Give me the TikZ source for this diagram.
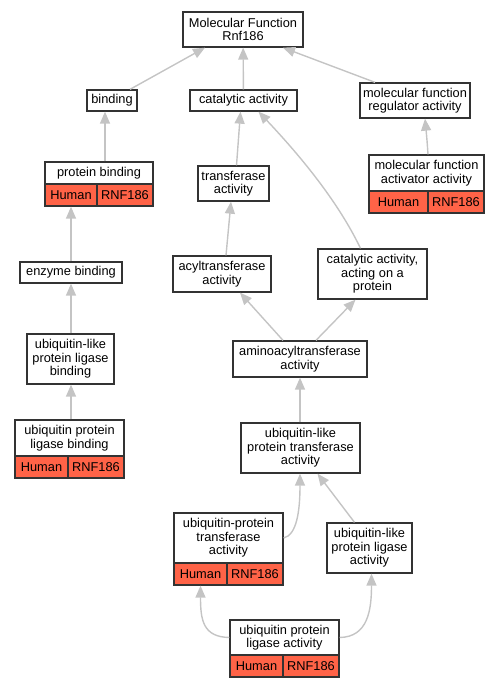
\documentclass[tikz,border=0pt]{standalone}
\usepackage{fontspec}
\setmainfont{Liberation Sans}
\usetikzlibrary{arrows.meta}
\definecolor{edgegray}{HTML}{C4C4C4}
\definecolor{boxline}{HTML}{333333}
\definecolor{tomatored}{HTML}{FF6347}
\begin{document}
\begin{tikzpicture}[x=1pt,y=-1pt,
  box/.style={draw=boxline, line width=1.3pt, fill=white, inner sep=0pt, align=center,
    font=\fontsize{12.8}{13.5}\selectfont},
  cell/.style={box, fill=tomatored, minimum height=22pt},
  edge/.style={draw=edgegray, line width=1.4pt, -{Triangle[length=12pt,width=10pt]}}]
\useasboundingbox (0,0) rectangle (500,688);

% plain nodes
\node[box, minimum width=120pt, minimum height=35pt] (mf) at (243,29.5) {Molecular Function\\Rnf186};
\node[box, minimum width=50pt, minimum height=21pt] (bind) at (112,100.5) {binding};
\node[box, minimum width=107pt, minimum height=21pt] (cat) at (243.5,100.5) {catalytic activity};
\node[box, minimum width=110pt, minimum height=35pt] (reg) at (415,100.5) {molecular function\\regulator activity};
\node[box, minimum width=71pt, minimum height=35pt] (trans) at (233.5,183.5) {transferase\\activity};
\node[box, minimum width=102pt, minimum height=21pt] (enz) at (71,272.5) {enzyme binding};
\node[box, minimum width=98pt, minimum height=36pt] (acyl) at (222,274) {acyltransferase\\activity};
\node[box, minimum width=109pt, minimum height=50pt] (cap) at (372.5,274) {catalytic activity,\\acting on a\\protein};
\node[box, minimum width=87pt, minimum height=50pt] (ulb) at (70.5,359) {ubiquitin-like\\protein ligase\\binding};
\node[box, minimum width=134pt, minimum height=36pt] (amino) at (300,359) {aminoacyltransferase\\activity};
\node[box, minimum width=119pt, minimum height=50pt] (ult) at (300.5,448) {ubiquitin-like\\protein transferase\\activity};
\node[box, minimum width=85pt, minimum height=50pt] (ula) at (369.5,548) {ubiquitin-like\\protein ligase\\activity};

% annotated nodes
\node[box, minimum width=108pt, minimum height=22pt] (pb) at (99,173) {protein binding};
\node[cell, minimum width=52pt] (pbh) at (71,195) {Human};
\node[cell, minimum width=56pt] (pbr) at (125,195) {RNF186};

\node[box, minimum width=115pt, minimum height=36pt] (act) at (426.5,173) {molecular function\\activator activity};
\node[cell, minimum width=59pt] (acth) at (398.5,202) {Human};
\node[cell, minimum width=56pt] (actr) at (456,202) {RNF186};

\node[box, minimum width=109pt, minimum height=36pt] (uplb) at (69.5,438) {ubiquitin protein\\ligase binding};
\node[cell, minimum width=53pt] (uplbh) at (41.5,467) {Human};
\node[cell, minimum width=56pt] (uplbr) at (96,467) {RNF186};

\node[box, minimum width=109pt, minimum height=50pt] (upt) at (228.5,538) {ubiquitin-protein\\transferase\\activity};
\node[cell, minimum width=53pt] (upth) at (200.5,574) {Human};
\node[cell, minimum width=56pt] (uptr) at (255,574) {RNF186};

\node[box, minimum width=109pt, minimum height=35pt] (upla) at (284.5,637.5) {ubiquitin protein\\ligase activity};
\node[cell, minimum width=53pt] (uplah) at (256.5,666) {Human};
\node[cell, minimum width=56pt] (uplar) at (311,666) {RNF186};

% edges
\draw[edge] ([xshift=18pt]bind.north) -- ([xshift=-38pt]mf.south);
\draw[edge] (cat) -- (mf);
\draw[edge] ([xshift=-40pt]reg.north) -- ([xshift=40pt]mf.south);
\draw[edge] ([xshift=6pt]pb.north) -- ([xshift=-7pt]bind.south);
\draw[edge] ([xshift=1.5pt]act.north) .. controls (427,140) .. ([xshift=10pt]reg.south);
\draw[edge] ([xshift=3pt]trans.north) -- ([xshift=-3pt]cat.south);
\draw[edge] ([xshift=-12pt]cap.north) .. controls (335,195) and (290,145) .. ([xshift=15pt]cat.south);
\draw[edge] (enz) -- (pbh);
\draw[edge] ([xshift=4pt]acyl.north) -- ([xshift=-2.5pt]trans.south);
\draw[edge] ([xshift=0.5pt]ulb.north) -- (enz.south);
\draw[edge] ([xshift=-17pt]amino.north) -- ([xshift=18pt]acyl.south);
\draw[edge] ([xshift=16pt]amino.north) -- ([xshift=-17pt]cap.south);
\draw[edge] ([xshift=1.5pt]uplb.north) -- ([xshift=0.5pt]ulb.south);
\draw[edge] ([xshift=-0.5pt]ult.north) -- (amino.south);
\draw[edge] (upt.east) .. controls (297,535) and (300,510) .. ([xshift=-0.5pt]ult.south);
\draw[edge] ([xshift=-15pt]ula.north) -- ([xshift=17pt]ult.south);
\draw[edge] (upla.west) .. controls (203,637) and (200.5,620) .. (upth.south);
\draw[edge] (upla.east) .. controls (368,637) and (371.5,610) .. ([xshift=2pt]ula.south);
\end{tikzpicture}
\end{document}
